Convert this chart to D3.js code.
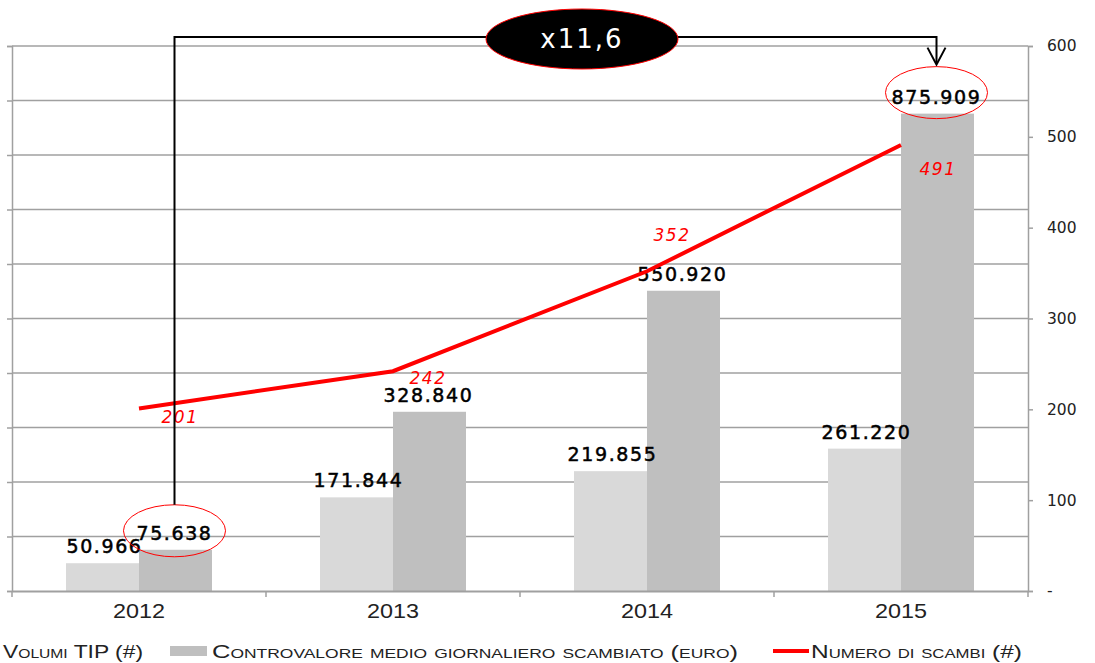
<!DOCTYPE html>
<html>
<head>
<meta charset="utf-8">
<script src="https://cdn.jsdelivr.net/npm/d3@7"></script>
<style>
  body { margin: 0; background: #fff; }
  svg { display: block; }
</style>
</head>
<body>
<svg id="chart" width="1095" height="663"></svg>
<script>
var years = ['2012', '2013', '2014', '2015']
var volumiTip = [50966, 171844, 219855, 261220]
var controvalore = [75638, 328840, 550920, 875909]
var numeroScambi = [201, 242, 352, 491]
var rightTicks = [0, 100, 200, 300, 400, 500, 600]
var seriesNames = ['Volumi TIP (#)', 'Controvalore medio giornaliero scambiato (euro)', 'Numero di scambi (#)']
var multiplier = 'x11,6'

// label offsets for the red line values (as placed in the original)
var lineLabelOffsets = [[41, 15], [35, 13], [25, -30], [37, 30]]

var fmt = d3.formatLocale({ decimal: ',', thousands: '.', grouping: [3], currency: ['', ''] }).format(',d')

var plotL = 12, plotR = 1028, plotT = 46, plotB = 591
var svg = d3.select('#chart')

var x = d3.scaleBand().domain(years).range([plotL, plotR])
var xSub = d3.scaleBand().domain(['v', 'c']).range([54, 200])
var yL = d3.scaleLinear().domain([0, 1000000]).range([plotB, plotT])
var yR = d3.scaleLinear().domain([0, 600]).range([plotB, plotT])

// grid
svg.append('g')
    .selectAll('line')
    .data(yL.ticks(10).filter(d => d > 0))
    .join('line')
    .attr('x1', plotL).attr('x2', plotR)
    .attr('y1', d => yL(d)).attr('y2', d => yL(d))
    .style('stroke', '#a0a0a0')
    .style('stroke-width', 1.5)

// left axis (no labels)
var gl = svg.append('g')
    .attr('transform', `translate(${plotL},0)`)
    .call(d3.axisLeft(yL).ticks(10).tickSize(5).tickFormat(''))
gl.selectAll('path, line').style('stroke', '#a0a0a0').style('stroke-width', 1.5)

// right axis
var gr = svg.append('g')
    .attr('transform', `translate(${plotR},0)`)
    .call(d3.axisRight(yR).tickValues(rightTicks).tickSize(5).tickPadding(14)
        .tickFormat(d => d === 0 ? '-' : d))
gr.selectAll('path, line').style('stroke', '#a0a0a0').style('stroke-width', 1.5)
gr.selectAll('text')
    .style('font-family', 'DejaVu Sans, sans-serif')
    .style('font-size', '15.5px')
    .style('fill', '#222')

// bars
var groups = svg.append('g')
    .selectAll('g')
    .data(years)
    .join('g')
    .attr('transform', d => `translate(${x(d)},0)`)

groups.append('rect')
    .attr('x', xSub('v'))
    .attr('width', xSub.bandwidth())
    .attr('y', (d, i) => yL(volumiTip[i]))
    .attr('height', (d, i) => plotB - yL(volumiTip[i]))
    .style('fill', '#d9d9d9')

groups.append('rect')
    .attr('x', xSub('c'))
    .attr('width', xSub.bandwidth())
    .attr('y', (d, i) => yL(controvalore[i]))
    .attr('height', (d, i) => plotB - yL(controvalore[i]))
    .style('fill', '#bfbfbf')

// bottom axis
var gb = svg.append('g')
    .attr('transform', `translate(0,${plotB})`)
    .call(d3.axisBottom(x).tickSize(0).tickPadding(12))
gb.select('path').style('stroke', '#a0a0a0').style('stroke-width', 2)
gb.selectAll('text')
    .attr('textLength', 52)
    .attr('lengthAdjust', 'spacingAndGlyphs')
    .style('font-family', "'Liberation Sans Narrow', 'Liberation Sans', sans-serif")
    .style('font-size', '21px')
    .style('fill', '#222')
svg.append('g')
    .selectAll('line')
    .data(years.concat(['end']))
    .join('line')
    .attr('x1', (d, i) => plotL + i * x.step()).attr('x2', (d, i) => plotL + i * x.step())
    .attr('y1', plotB).attr('y2', plotB + 6)
    .style('stroke', '#a0a0a0').style('stroke-width', 1.5)

// bar value labels
var labelStyle = sel => sel
    .attr('text-anchor', 'middle')
    .style('font-family', 'DejaVu Sans, sans-serif')
    .style('font-size', '19px')
    .style('letter-spacing', '1.6px')
    .style('fill', '#000')
    .style('stroke', '#000')
    .style('stroke-width', 0.5)

groups.append('text')
    .attr('x', xSub('v') + xSub.bandwidth() / 2 + 2)
    .attr('y', (d, i) => yL(volumiTip[i]) - 10)
    .text((d, i) => fmt(volumiTip[i]))
    .call(labelStyle)

groups.append('text')
    .attr('x', xSub('c') + xSub.bandwidth() / 2 - 1)
    .attr('y', (d, i) => yL(controvalore[i]) - 10)
    .text((d, i) => fmt(controvalore[i]))
    .call(labelStyle)

// red line
var line = d3.line()
    .x((d, i) => x(years[i]) + x.bandwidth() / 2)
    .y(d => yR(d))
svg.append('path')
    .datum(numeroScambi)
    .attr('d', line)
    .style('fill', 'none')
    .style('stroke', '#ff0000')
    .style('stroke-width', 4)

svg.append('g')
    .selectAll('text')
    .data(numeroScambi)
    .join('text')
    .attr('x', (d, i) => x(years[i]) + x.bandwidth() / 2 + lineLabelOffsets[i][0])
    .attr('y', (d, i) => yR(d) + lineLabelOffsets[i][1])
    .attr('text-anchor', 'middle')
    .style('font-family', 'DejaVu Sans, sans-serif')
    .style('font-style', 'italic')
    .style('font-size', '17px')
    .style('letter-spacing', '1.5px')
    .style('fill', '#ff0000')
    .text(d => d)

// highlight ellipses around first and last controvalore
var first = 0, last = years.length - 1
var cxFirst = x(years[first]) + xSub('c') + xSub.bandwidth() / 2 - 1
var cxLast = x(years[last]) + xSub('c') + xSub.bandwidth() / 2 - 1
var cyFirst = yL(controvalore[first]) - 19
var cyLast = yL(controvalore[last]) - 21

svg.append('g')
    .selectAll('ellipse')
    .data([[cxFirst, cyFirst], [cxLast, cyLast]])
    .join('ellipse')
    .attr('cx', d => d[0]).attr('cy', d => d[1])
    .attr('rx', 51).attr('ry', 26)
    .style('fill', 'none')
    .style('stroke', '#ff0000')
    .style('stroke-width', 1)

// connector with arrow
var connY = 37
svg.append('path')
    .attr('d', `M${cxFirst},${cyFirst - 26} V${connY} H${cxLast} V${cyLast - 29}`)
    .style('fill', 'none')
    .style('stroke', '#000')
    .style('stroke-width', 2)
svg.append('path')
    .attr('d', `M${cxLast - 9},${cyLast - 45} L${cxLast},${cyLast - 28} L${cxLast + 9},${cyLast - 45}`)
    .style('fill', 'none')
    .style('stroke', '#000')
    .style('stroke-width', 2)

// multiplier badge
svg.append('ellipse')
    .attr('cx', 582).attr('cy', 39)
    .attr('rx', 96).attr('ry', 30)
    .style('fill', '#000')
    .style('stroke', '#ff0000')
    .style('stroke-width', 1)
svg.append('text')
    .attr('x', 582).attr('y', 48)
    .attr('text-anchor', 'middle')
    .style('font-family', 'DejaVu Sans, sans-serif')
    .style('font-size', '26px')
    .style('letter-spacing', '2px')
    .style('fill', '#fff')
    .text(multiplier)

// legend
var legendY = 651
var legendItems = [
    { name: seriesNames[0], type: 'rect', color: '#d9d9d9', sx: -40, tx: 3, w: 140 },
    { name: seriesNames[1], type: 'rect', color: '#bfbfbf', sx: 170, tx: 212, w: 526 },
    { name: seriesNames[2], type: 'line', color: '#ff0000', sx: 773, tx: 811, w: 211 }
]
var lg = svg.append('g')
    .selectAll('g')
    .data(legendItems)
    .join('g')
lg.filter(d => d.type === 'rect').append('rect')
    .attr('x', d => d.sx).attr('y', legendY - 5)
    .attr('width', 37).attr('height', 10)
    .style('fill', d => d.color)
lg.filter(d => d.type === 'line').append('line')
    .attr('x1', d => d.sx).attr('x2', d => d.sx + 36)
    .attr('y1', legendY).attr('y2', legendY)
    .style('stroke', d => d.color)
    .style('stroke-width', 4)
lg.append('text')
    .attr('x', d => d.tx).attr('y', legendY + 7)
    .attr('textLength', d => d.w)
    .attr('lengthAdjust', 'spacingAndGlyphs')
    .style('font-family', "'Liberation Sans Narrow', 'Liberation Sans', sans-serif")
    .style('font-size', '19px')
    .style('font-variant', 'small-caps')
    .style('fill', '#222')
    .text(d => d.name)
</script>
</body>
</html>
